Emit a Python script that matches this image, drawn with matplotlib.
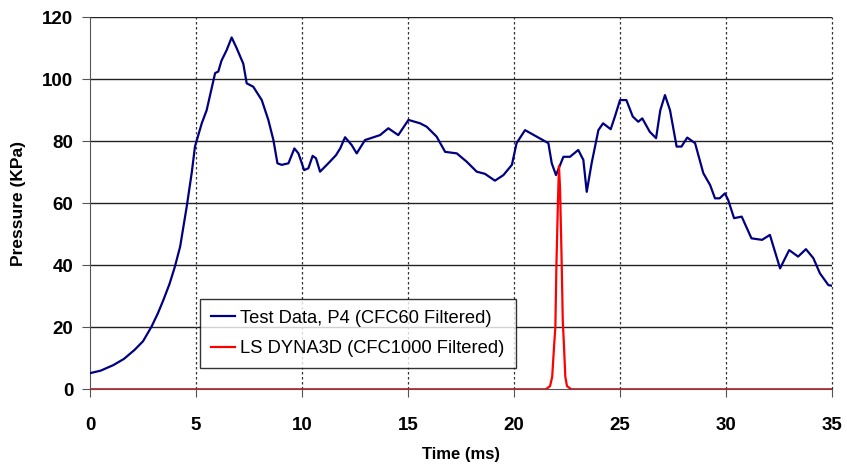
import matplotlib
matplotlib.use("Agg")
import matplotlib.pyplot as plt

# test data, P4 (CFC60 filtered)
t_test = [0.0, 0.5, 1.1, 1.6, 2.1, 2.5, 2.9, 3.2, 3.46, 3.75, 4.0, 4.25, 4.56,
          4.8, 4.95, 5.27, 5.5, 5.7, 5.9, 6.05, 6.2, 6.45, 6.68, 6.92, 7.23,
          7.39, 7.7, 8.1, 8.41, 8.65, 8.84, 9.04, 9.36, 9.64, 9.83, 10.1, 10.3,
          10.5, 10.66, 10.85, 11.24, 11.6, 11.8, 12.03, 12.34, 12.58, 12.97,
          13.68, 14.07, 14.54, 15.02, 15.57, 15.88, 16.35, 16.75, 17.3, 17.77,
          18.24, 18.63, 19.1, 19.5, 19.9, 20.12, 20.52, 21.07, 21.62, 21.78,
          21.98, 22.33, 22.64, 23.03, 23.27, 23.43, 23.66, 23.98, 24.2, 24.56,
          24.76, 25.0, 25.3, 25.6, 25.86, 26.05, 26.4, 26.7, 26.9, 27.12,
          27.36, 27.67, 27.9, 28.17, 28.54, 28.93, 29.25, 29.48, 29.7, 29.95,
          30.1, 30.38, 30.74, 31.2, 31.7, 32.07, 32.55, 32.98, 33.4, 33.77,
          34.12, 34.43, 34.83, 35.0]
p_test = [5.2, 6.0, 7.8, 9.8, 12.7, 15.5, 20.2, 24.5, 28.8, 34.0, 39.5, 46.0,
          58.9, 70.0, 78.3, 85.8, 90.0, 96.0, 102.0, 102.5, 106.0, 109.5,
          113.5, 110.0, 105.0, 98.7, 97.6, 93.3, 86.9, 80.4, 72.9, 72.4, 72.9,
          77.7, 76.1, 70.7, 71.3, 75.3, 74.5, 70.2, 72.9, 75.5, 77.7, 81.3,
          78.8, 76.1, 80.4, 82.0, 84.2, 82.0, 86.9, 85.8, 84.7, 81.5, 76.6,
          76.1, 73.4, 70.2, 69.5, 67.3, 69.1, 72.4, 79.4, 83.6, 81.5, 79.4,
          72.9, 69.1, 75.0, 75.0, 77.2, 74.0, 63.7, 72.9, 83.6, 85.8, 83.9,
          88.0, 93.3, 93.3, 88.0, 86.3, 87.4, 83.1, 81.0, 90.0, 94.9, 90.0,
          78.3, 78.3, 81.2, 79.4, 69.7, 65.9, 61.6, 61.6, 63.2, 61.1, 55.2,
          55.7, 48.7, 48.2, 49.8, 39.0, 44.9, 42.8, 45.2, 42.3, 37.4, 33.6,
          33.4]

# LS DYNA3D (CFC1000 filtered)
t_dyna = [0.0, 21.5, 21.7, 21.8, 21.9, 21.95, 22.0, 22.07, 22.12, 22.17,
          22.22, 22.25, 22.3, 22.35, 22.42, 22.5, 22.7, 35.0]
p_dyna = [0.0, 0.0, 1.0, 4.0, 15.0, 20.0, 40.0, 60.0, 72.0, 65.0, 50.0, 40.0,
          22.0, 15.0, 4.0, 1.0, 0.0, 0.0]

x_ticks = [0, 5, 10, 15, 20, 25, 30, 35]
y_ticks = [0, 20, 40, 60, 80, 100, 120]

plt.rcParams["font.family"] = ["Liberation Sans", "DejaVu Sans"]

fig = plt.figure(figsize=(8.47, 4.69), dpi=100)
ax = fig.add_axes([0.1063, 0.170, 0.8760, 0.7931])

ax.set_xlim(0, 35)
ax.set_ylim(0, 120)
ax.set_xticks(x_ticks)
ax.set_yticks(y_ticks)

# gridlines: solid horizontals, dotted verticals
for y in y_ticks[1:]:
    ax.axhline(y, color="#222222", lw=1.0, zorder=1)
for x in x_ticks[1:]:
    ax.axvline(x, color="#333333", lw=0.9, ls=(0, (2, 2)), zorder=1,
               clip_on=False)

ax.plot(t_test, p_test, color="#000080", lw=1.6, zorder=3,
        label="Test Data, P4 (CFC60 Filtered)")
ax.plot(t_dyna, p_dyna, color="#ff0000", lw=1.6, zorder=4,
        label="LS DYNA3D (CFC1000 Filtered)")

for s in ("top", "right"):
    ax.spines[s].set_visible(False)
ax.spines["left"].set_color("#555555")
ax.spines["bottom"].set_color("#555555")
ax.tick_params(axis="both", direction="out", length=6, color="#555555",
               labelsize=13.5)
ax.tick_params(axis="y", pad=6)
ax.tick_params(axis="x", pad=14)
for lab in ax.get_xticklabels() + ax.get_yticklabels():
    lab.set_fontweight("bold")

ax.set_xlabel("Time (ms)", fontsize=12, fontweight="bold", labelpad=9)
ax.set_ylabel("Pressure (KPa)", fontsize=12.5, fontweight="bold", labelpad=12)

leg = ax.legend(loc="lower left", bbox_to_anchor=(0.148, 0.056),
                fontsize=13.2, frameon=True, fancybox=False, handlelength=1.3,
                handletextpad=0.3, borderpad=0.6, labelspacing=0.75,
                borderaxespad=0)
leg.get_frame().set_edgecolor("black")
leg.get_frame().set_linewidth(1.0)
leg.set_zorder(5)

fig.savefig("out.png", dpi=100, facecolor="white")
